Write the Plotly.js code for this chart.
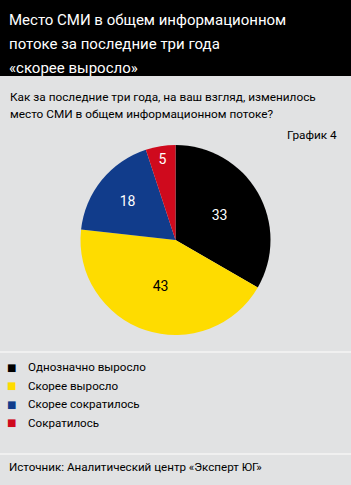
<!DOCTYPE html>
<html>
<head>
<meta charset="utf-8">
<script src="https://cdn.plot.ly/plotly-3.0.1.min.js"></script>
<style>
html,body{margin:0;padding:0;background:#e1e2e3;}
#chart{width:351px;height:485px;}
</style>
</head>
<body>
<div id="chart"></div>
<script>
const categories = ["Однозначно выросло", "Скорее выросло", "Скорее сократилось", "Сократилось"];
const values = [33, 43, 18, 5];
const sliceColors = ["#000000", "#fedc00", "#113c8b", "#cf0a1d"];
const labelColors = ["#ffffff", "#000000", "#ffffff", "#ffffff"];

const titleLines = ["Место СМИ в общем информационном", "потоке за последние три года", "«скорее выросло»"];
const questionLines = ["Как за последние три года, на ваш взгляд, изменилось", "место СМИ в общем информационном потоке?"];
const chartLabel = "График 4";
const sourceText = "Источник: Аналитический центр «Эксперт ЮГ»";

const W = 351, H = 485;
const FONT = "Roboto, 'Liberation Sans', sans-serif";
const py = v => 1 - v / H;

const data = [{
  type: "pie",
  labels: categories,
  values: values,
  sort: false,
  direction: "clockwise",
  rotation: 0,
  marker: {colors: sliceColors, line: {width: 0}},
  textinfo: "value",
  textposition: "inside",
  insidetextorientation: "horizontal",
  insidetextfont: {family: FONT, size: 14, color: labelColors},
  domain: {x: [80.5 / W, 270.5 / W], y: [py(335), py(145)]},
  hoverinfo: "none",
  showlegend: false
}];

const annotations = [];
titleLines.forEach((t, i) => annotations.push({
  text: t, xref: "paper", yref: "paper", x: 7 / W, y: py(20 + i * 24), xanchor: "left", yanchor: "middle",
  showarrow: false, font: {family: FONT, size: 15, color: "#ffffff"}
}));
questionLines.forEach((t, i) => annotations.push({
  text: t, xref: "paper", yref: "paper", x: 8 / W, y: py(97 + i * 16.5), xanchor: "left", yanchor: "middle",
  showarrow: false, font: {family: FONT, size: 11.8, color: "#000"}
}));
annotations.push({text: chartLabel, xref: "paper", yref: "paper", x: 339 / W, y: py(135), xanchor: "right", yanchor: "middle", showarrow: false, font: {family: FONT, size: 11.8, color: "#000"}});
annotations.push({text: sourceText, xref: "paper", yref: "paper", x: 7 / W, y: py(467), xanchor: "left", yanchor: "middle", showarrow: false, font: {family: FONT, size: 11.6, color: "#000"}});
categories.forEach((c, i) => {
  annotations.push({text: "■", xref: "paper", yref: "paper", x: 11.5 / W, y: py(367 + i * 18.5), xanchor: "center", yanchor: "middle", showarrow: false, font: {family: "DejaVu Sans", size: 10, color: sliceColors[i]}});
  annotations.push({text: c, xref: "paper", yref: "paper", x: 26 / W, y: py(367 + i * 18.5), xanchor: "left", yanchor: "middle", showarrow: false, font: {family: FONT, size: 11.6, color: "#000"}});
});

const layout = {
  width: W, height: H,
  margin: {l: 0, r: 0, t: 0, b: 0},
  paper_bgcolor: "#e1e2e3",
  plot_bgcolor: "#e1e2e3",
  font: {family: FONT, color: "#000"},
  showlegend: false,
  shapes: [
    {type: "rect", xref: "paper", yref: "paper", x0: 0, x1: 1, y0: py(76), y1: 1, fillcolor: "#000000", line: {width: 0}, layer: "below"},
    {type: "line", xref: "paper", yref: "paper", x0: 0, x1: 1, y0: py(352), y1: py(352), line: {color: "#f4f4f4", width: 1.5}},
    {type: "line", xref: "paper", yref: "paper", x0: 0, x1: 1, y0: py(454), y1: py(454), line: {color: "#f4f4f4", width: 1.5}}
  ],
  annotations: annotations
};

Plotly.newPlot("chart", data, layout, {displayModeBar: false, staticPlot: true});
</script>
</body>
</html>
